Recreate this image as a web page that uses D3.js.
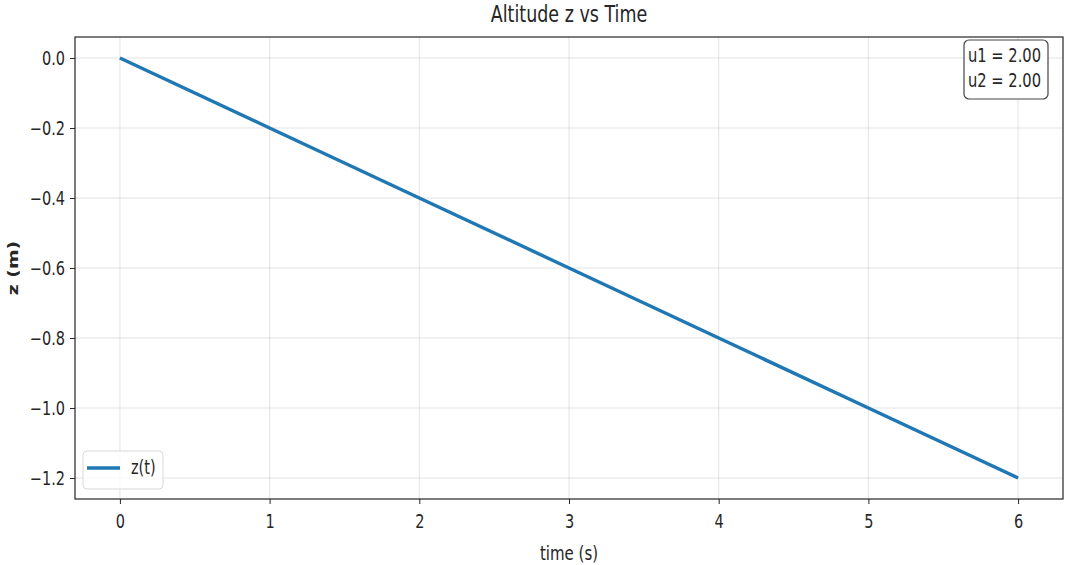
<!DOCTYPE html>
<html>
<head>
<meta charset="utf-8">
<script src="https://cdn.jsdelivr.net/npm/d3@7/dist/d3.min.js"></script>
<style>
  html, body { margin: 0; padding: 0; background: #fff; }
  svg { display: block; }
  text { font-family: "DejaVu Sans", sans-serif; fill: #262626; }
</style>
</head>
<body>
<svg id="chart" width="1066" height="565"></svg>
<script>
// Data
const times = [0, 1, 2, 3, 4, 5, 6];
const zValues = [0.0, -0.2, -0.4, -0.6, -0.8, -1.0, -1.2];
const xTicks = [0, 1, 2, 3, 4, 5, 6];
const yTicks = [0.0, -0.2, -0.4, -0.6, -0.8, -1.0, -1.2];
const infoLines = ["u1 = 2.00", "u2 = 2.00"];
const legendLabels = ["z(t)"];

const W = 1066, H = 565;
const m = { left: 75, right: 3, top: 37, bottom: 66 };
const SY = 1.3; // vertical text stretch

const svg = d3.select("#chart");
const x = d3.scaleLinear().domain([-0.3, 6.3]).range([m.left, W - m.right]);
const y = d3.scaleLinear().domain([-1.26, 0.06]).range([H - m.bottom, m.top]);

function stretchText(sel, sx, sy) {
  sel.each(function() {
    const t = d3.select(this);
    const tx = +t.attr("x") || 0, ty = +t.attr("y") || 0;
    t.attr("transform", `translate(${tx},${ty}) scale(${sx},${sy}) translate(${-tx},${-ty})`);
  });
}

// grid
const g = svg.append("g");
g.selectAll(".vg").data(xTicks).join("line")
  .attr("x1", d => x(d)).attr("x2", d => x(d))
  .attr("y1", m.top).attr("y2", H - m.bottom)
  .attr("stroke", "#b0b0b0").attr("stroke-opacity", 0.35).attr("stroke-width", 1);
g.selectAll(".hg").data(yTicks).join("line")
  .attr("y1", d => y(d)).attr("y2", d => y(d))
  .attr("x1", m.left).attr("x2", W - m.right)
  .attr("stroke", "#b0b0b0").attr("stroke-opacity", 0.35).attr("stroke-width", 1);

// line
const pts = times.map((t, i) => [t, zValues[i]]);
svg.append("path").datum(pts)
  .attr("fill", "none").attr("stroke", "#1f77b4").attr("stroke-width", 3.4)
  .attr("d", d3.line().x(d => x(d[0])).y(d => y(d[1])));

// axes
const xAxis = svg.append("g").attr("transform", `translate(0,${H - m.bottom})`)
  .call(d3.axisBottom(x).tickValues(xTicks).tickSize(5).tickPadding(4).tickFormat(d3.format("d")));
const yAxis = svg.append("g").attr("transform", `translate(${m.left},0)`)
  .call(d3.axisLeft(y).tickValues(yTicks).tickSize(5).tickPadding(5).tickFormat(d => d3.format(".1f")(d).replace("-", "\u2212")));
[xAxis, yAxis].forEach(a => {
  a.select(".domain").remove();
  a.selectAll(".tick line").attr("stroke", "#262626").attr("stroke-width", 1);
  a.selectAll(".tick text").attr("font-size", 14.5).attr("fill", "#262626")
    .style("font-family", "DejaVu Sans, sans-serif");
});
xAxis.selectAll(".tick text").each(function() {
  const t = d3.select(this);
  t.attr("dy", null).attr("y", 29).attr("transform", `translate(0,29) scale(1,${SY}) translate(0,-29)`);
});
yAxis.selectAll(".tick text").each(function() {
  const t = d3.select(this);
  t.attr("dy", "0.36em").attr("transform", `scale(1,${SY})`);
});

// frame
svg.append("rect").attr("x", m.left).attr("y", m.top)
  .attr("width", W - m.left - m.right).attr("height", H - m.top - m.bottom)
  .attr("fill", "none").attr("stroke", "#262626").attr("stroke-width", 1.2);

// title
svg.append("text").attr("x", (m.left + W - m.right) / 2).attr("y", 22)
  .attr("text-anchor", "middle").attr("font-size", 17.5).text("Altitude z vs Time")
  .call(stretchText, 1, SY);

// x label
svg.append("text").attr("x", (m.left + W - m.right) / 2).attr("y", 560)
  .attr("text-anchor", "middle").attr("font-size", 15).text("time (s)")
  .call(stretchText, 1, SY);

// y label
svg.append("text").attr("transform", `translate(18,${(m.top + H - m.bottom) / 2}) scale(1,${SY}) rotate(-90)`)
  .attr("text-anchor", "middle").attr("font-size", 14.5).attr("font-weight", "bold").text("z (m)");

// legend
const lg = svg.append("g");
lg.append("rect").attr("x", 83).attr("y", 451).attr("width", 80).attr("height", 38)
  .attr("rx", 4).attr("fill", "#fff").attr("fill-opacity", 0.8)
  .attr("stroke", "#d9d9d9").attr("stroke-width", 1);
lg.selectAll(".ll").data(legendLabels).join("line")
  .attr("x1", 87).attr("x2", 120).attr("y1", 468).attr("y2", 468)
  .attr("stroke", "#1f77b4").attr("stroke-width", 3.4);
lg.selectAll(".lt").data(legendLabels).join("text")
  .attr("x", 131).attr("y", 474).attr("font-size", 14.5).text(d => d)
  .call(stretchText, 1, SY);

// info box
const ib = svg.append("g");
ib.append("rect").attr("x", 964).attr("y", 40).attr("width", 84).attr("height", 59)
  .attr("rx", 5).attr("fill", "#fff").attr("stroke", "#444").attr("stroke-width", 1.2);
ib.selectAll("text").data(infoLines).join("text")
  .attr("x", 968).attr("y", (d, i) => 62 + i * 25).attr("font-size", 14.7).text(d => d)
  .call(stretchText, 1, SY);
</script>
</body>
</html>
